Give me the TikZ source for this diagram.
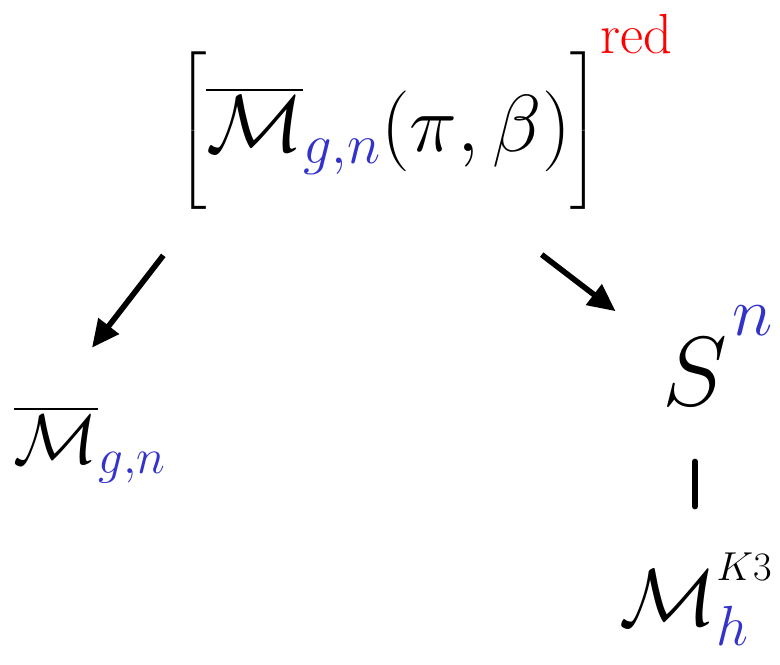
\documentclass[tikz,border=0pt]{standalone}
\usepackage{fix-cm}
\usepackage{amsmath}
\usetikzlibrary{arrows.meta}
\definecolor{inkblue}{RGB}{51,51,204}
\definecolor{inkred}{RGB}{255,0,0}
\begin{document}
\begin{tikzpicture}[
    x=0.02cm,y=-0.02cm,
    lbl/.style={inner sep=2pt,font=\fontsize{46}{56}\selectfont},
    small/.style={inner sep=2pt,font=\fontsize{40}{48}\selectfont},
    big/.style={inner sep=2pt,font=\fontsize{56}{66}\selectfont},
    arr/.style={-{Triangle[length=0.55cm,width=0.5cm]},line width=3.2pt,draw=black},
    line/.style={line width=3.2pt,draw=black,line cap=round}
]
    \useasboundingbox (0,0) rectangle (780,665);
    \node[lbl] (top) at (425,112)
        {$\Big[\overline{\mathcal M}_{\textcolor{inkblue}{g,n}}(\pi,\beta)\Big]^{\raisebox{0.25em}{$\scriptstyle\textcolor{inkred}{\mathrm{red}}$}}$};
    \node[small,anchor=west] (mbar) at (10,445) {$\overline{\mathcal M}_{\textcolor{inkblue}{g,n}}$};
    \node[big] (surf) at (695,372)
        {$S\makebox[0pt][l]{\smash{${\vphantom{S}}^{\hspace{0.05em}\raisebox{0.3em}{$\scriptstyle\textcolor{inkblue}{n}$}}$}}$};
    \node[lbl] (modk) at (668,598)
        {$\mathcal M\makebox[0pt][l]{\smash{${\vphantom{\mathcal M}}_{\textcolor{inkblue}{h}}^{\raisebox{0.15em}{$\scriptscriptstyle K3$}}$}}$};

    \draw[arr] ([shift={(-10,42)}]top.south west) -- ([shift={(2,-55)}]mbar.north);
    \draw[arr,shorten <=4.2cm,shorten >=2cm] ([shift={(-50,15)}]top.center) -- (surf.center);
    \draw[line,shorten <=1.04cm,shorten >=1.2cm] (surf.south) -- (surf.south |- modk.north);
\end{tikzpicture}
\end{document}
